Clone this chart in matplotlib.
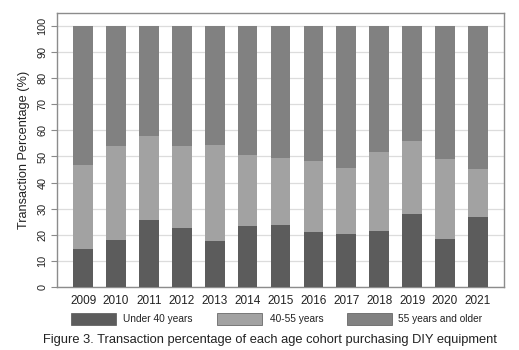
import numpy as np
import matplotlib.pyplot as plt
from matplotlib.patches import Rectangle

plt.rcParams['font.family'] = ['Liberation Sans', 'DejaVu Sans']

years = ['2009', '2010', '2011', '2012', '2013', '2014', '2015',
         '2016', '2017', '2018', '2019', '2020', '2021']
under40 = [14.5, 18.0, 25.7, 22.7, 17.8, 23.5, 23.6, 21.2, 20.2, 21.5, 27.8, 18.3, 26.8]
cum_40_55 = [46.7, 54.1, 58.0, 54.0, 54.3, 50.5, 49.4, 48.2, 45.6, 51.7, 56.1, 49.2, 45.3]
mid40_55 = [c - u for c, u in zip(cum_40_55, under40)]
over55 = [100 - c for c in cum_40_55]

labels = ['Under 40 years', '40-55 years', '55 years and older']
colors = ['#5c5c5c', '#a2a2a2', '#818181']

fig = plt.figure(figsize=(5.19, 3.5), dpi=100)
ax = fig.add_axes([0.110, 0.180, 0.861, 0.783])

x = np.arange(len(years))
w = 0.6
ax.bar(x, under40, w, color=colors[0], zorder=3)
ax.bar(x, mid40_55, w, bottom=under40, color=colors[1], zorder=3)
ax.bar(x, over55, w, bottom=cum_40_55, color=colors[2], zorder=3)

ax.set_xlim(-0.79, len(years) - 0.21)
ax.set_ylim(0, 105)
ax.set_yticks(range(0, 101, 10))
ax.set_yticklabels([str(v) for v in range(0, 101, 10)], rotation=90, va='center', fontsize=7.8)
ax.set_xticks(x)
ax.set_xticklabels(years, fontsize=8.5)
ax.tick_params(axis='x', length=0, pad=6, colors='#222222')
ax.tick_params(axis='y', length=4, width=0.8, color='#8a8a8a', pad=3, labelcolor='#222222')
ax.yaxis.grid(True, color='#dcdcdc', lw=0.9, zorder=0)
for s in ax.spines.values():
    s.set_color('#8c8c8c')
    s.set_linewidth(1.0)
ax.set_ylabel('Transaction Percentage (%)', fontsize=9.2, color='#222222', labelpad=5)

# legend row below the axes
W, H = 519.0, 350.0
box_x = [71, 217, 347]
text_x = [123, 270, 398]
for bx, tx, lab, col in zip(box_x, text_x, labels, colors):
    fig.patches.append(Rectangle((bx / W, 1 - 325 / H), 45 / W, 12.5 / H,
                                 transform=fig.transFigure, facecolor=col,
                                 edgecolor='#555555', lw=0.5))
    fig.text(tx / W, 1 - 319 / H, lab, fontsize=7.3, va='center', ha='left', color='#222222')

fig.text(270 / W, 1 - 340 / H,
         'Figure 3. Transaction percentage of each age cohort purchasing DIY equipment',
         fontsize=9.25, ha='center', va='center', color='#222222')

fig.savefig('out.png', dpi=100)
